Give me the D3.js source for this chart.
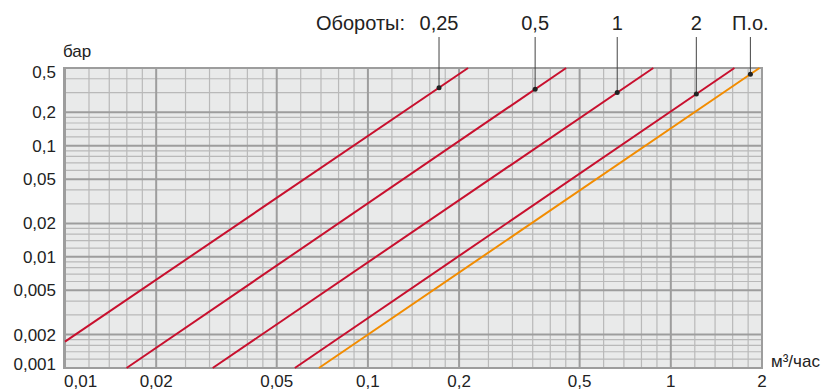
<!DOCTYPE html>
<html>
<head>
<meta charset="utf-8">
<script src="https://cdnjs.cloudflare.com/ajax/libs/d3/7.8.5/d3.min.js"></script>
<style>
    body { margin: 0; background: #fff; }
    text { font-family: "Liberation Sans", Arial, sans-serif; fill: #222; }
</style>
</head>
<body>
<svg id="vis" width="827" height="392"></svg>
<script>
// axis ticks
var xMajor = [0.01, 0.02, 0.05, 0.1, 0.2, 0.5, 1, 2];
var xLabels = ["0,01", "0,02", "0,05", "0,1", "0,2", "0,5", "1", "2"];
var yMajor = [0.001, 0.002, 0.005, 0.01, 0.02, 0.05, 0.1, 0.2, 0.5];
var yLabels = ["0,001", "0,002", "0,005", "0,01", "0,02", "0,05", "0,1", "0,2", "0,5"];
var xMinorSteps = [1.2, 1.4, 1.6, 1.8, 2.5, 3, 3.5, 4, 4.5, 6, 7, 8, 9];
var yMinorSteps = [1.2, 1.4, 1.6, 1.8, 3, 4, 6, 7, 8, 9];

// curves: flow (m3/h) and pressure loss (bar) at both ends
var speeds = ["0,25", "0,5", "1", "2", "П.о."];
var lineQ = [[0.01, 0.2141], [0.01597, 0.4513], [0.03073, 0.8753], [0.05737, 1.622], [0.0689, 1.962]];
var lineDp = [[0.001726, 0.5], [0.001, 0.5], [0.001, 0.5], [0.001, 0.5], [0.001, 0.5]];
var lineColors = ["#c8102e", "#c8102e", "#c8102e", "#c8102e", "#f28c00"];
// flow where each curve label points
var markQ = [0.1717, 0.3565, 0.6654, 1.214, 1.831];

var vis = d3.select("#vis");

var x = d3.scaleLog().domain([0.01, 2]).range([65, 762]);
var y = d3.scaleLog().domain([0.001, 0.5]).range([368, 68]);

var x0 = x.range()[0] - 1, x1 = x.range()[1];
var y0 = y.range()[1], y1 = y.range()[0];

function minors(steps, lo, hi) {
    var out = [];
    for (var d = 0.0001; d < 10; d *= 10) {
        for (var s of steps) {
            var v = +(s * d).toPrecision(3);
            if (v > lo && v < hi) out.push(v);
        }
    }
    return out;
}

vis.append("rect")
    .attr("x", x0).attr("y", y0)
    .attr("width", x1 - x0).attr("height", y1 - y0)
    .attr("fill", "#e9eaea");

// minor grid
vis.append("g").selectAll("line")
    .data(minors(xMinorSteps, 0.01, 2))
    .join("line")
    .attr("x1", d => x(d)).attr("x2", d => x(d))
    .attr("y1", y0).attr("y2", y1)
    .attr("stroke", "#b9b9b9").attr("stroke-width", 1.2);

vis.append("g").selectAll("line")
    .data(minors(yMinorSteps, 0.001, 0.5))
    .join("line")
    .attr("x1", x0).attr("x2", x1)
    .attr("y1", d => y(d)).attr("y2", d => y(d))
    .attr("stroke", "#b9b9b9").attr("stroke-width", 1.2);

// major grid
vis.append("g").selectAll("line")
    .data(xMajor)
    .join("line")
    .attr("x1", d => x(d)).attr("x2", d => x(d))
    .attr("y1", y0).attr("y2", y1)
    .attr("stroke", "#9d9d9d").attr("stroke-width", 2);

vis.append("g").selectAll("line")
    .data(yMajor)
    .join("line")
    .attr("x1", x0).attr("x2", x1)
    .attr("y1", d => y(d)).attr("y2", d => y(d))
    .attr("stroke", "#9d9d9d").attr("stroke-width", 2);

vis.append("rect")
    .attr("x", x0).attr("y", y0)
    .attr("width", x1 - x0).attr("height", y1 - y0)
    .attr("fill", "none")
    .attr("stroke", "#9d9d9d").attr("stroke-width", 2);

// curves
var line = d3.line().x(d => x(d[0])).y(d => y(d[1]));
speeds.forEach(function(s, i) {
    var pts = lineQ[i].map((q, j) => [q, lineDp[i][j]]);
    vis.append("path")
        .attr("d", line(pts))
        .attr("fill", "none")
        .attr("stroke", lineColors[i])
        .attr("stroke-width", 2);
});

// point on a curve (straight in log-log)
function dpAt(i, q) {
    var lq = lineQ[i].map(Math.log10), ld = lineDp[i].map(Math.log10);
    var t = (Math.log10(q) - lq[0]) / (lq[1] - lq[0]);
    return Math.pow(10, ld[0] + t * (ld[1] - ld[0]));
}

var marks = vis.append("g");
speeds.forEach(function(s, i) {
    var mx = x(markQ[i]), my = y(dpAt(i, markQ[i]));
    marks.append("line")
        .attr("x1", mx).attr("x2", mx)
        .attr("y1", 37).attr("y2", my)
        .attr("stroke", "#444").attr("stroke-width", 1);
    marks.append("circle")
        .attr("cx", mx).attr("cy", my).attr("r", 2.5)
        .attr("fill", "#222");
    marks.append("text")
        .attr("x", mx).attr("y", 30)
        .attr("text-anchor", "middle")
        .attr("font-size", "20px")
        .text(s);
});

vis.append("text")
    .attr("x", 405).attr("y", 30)
    .attr("text-anchor", "end")
    .attr("font-size", "20px")
    .text("Обороты:");

// tick labels
vis.append("g").selectAll("text")
    .data(xMajor)
    .join("text")
    .attr("x", (d, i) => i == 0 ? x0 : x(d))
    .attr("y", 387)
    .attr("text-anchor", (d, i) => i == 0 ? "start" : "middle")
    .attr("font-size", "17px")
    .text((d, i) => xLabels[i]);

vis.append("g").selectAll("text")
    .data(yMajor)
    .join("text")
    .attr("x", 56)
    .attr("y", d => Math.max(72, Math.min(364, y(d))) + 6)
    .attr("text-anchor", "end")
    .attr("font-size", "17px")
    .text((d, i) => yLabels[i]);

vis.append("text")
    .attr("x", 63).attr("y", 57)
    .attr("font-size", "17px")
    .text("бар");

vis.append("text")
    .attr("x", 771).attr("y", 367)
    .attr("font-size", "17px")
    .text("м³/час");
</script>
</body>
</html>
